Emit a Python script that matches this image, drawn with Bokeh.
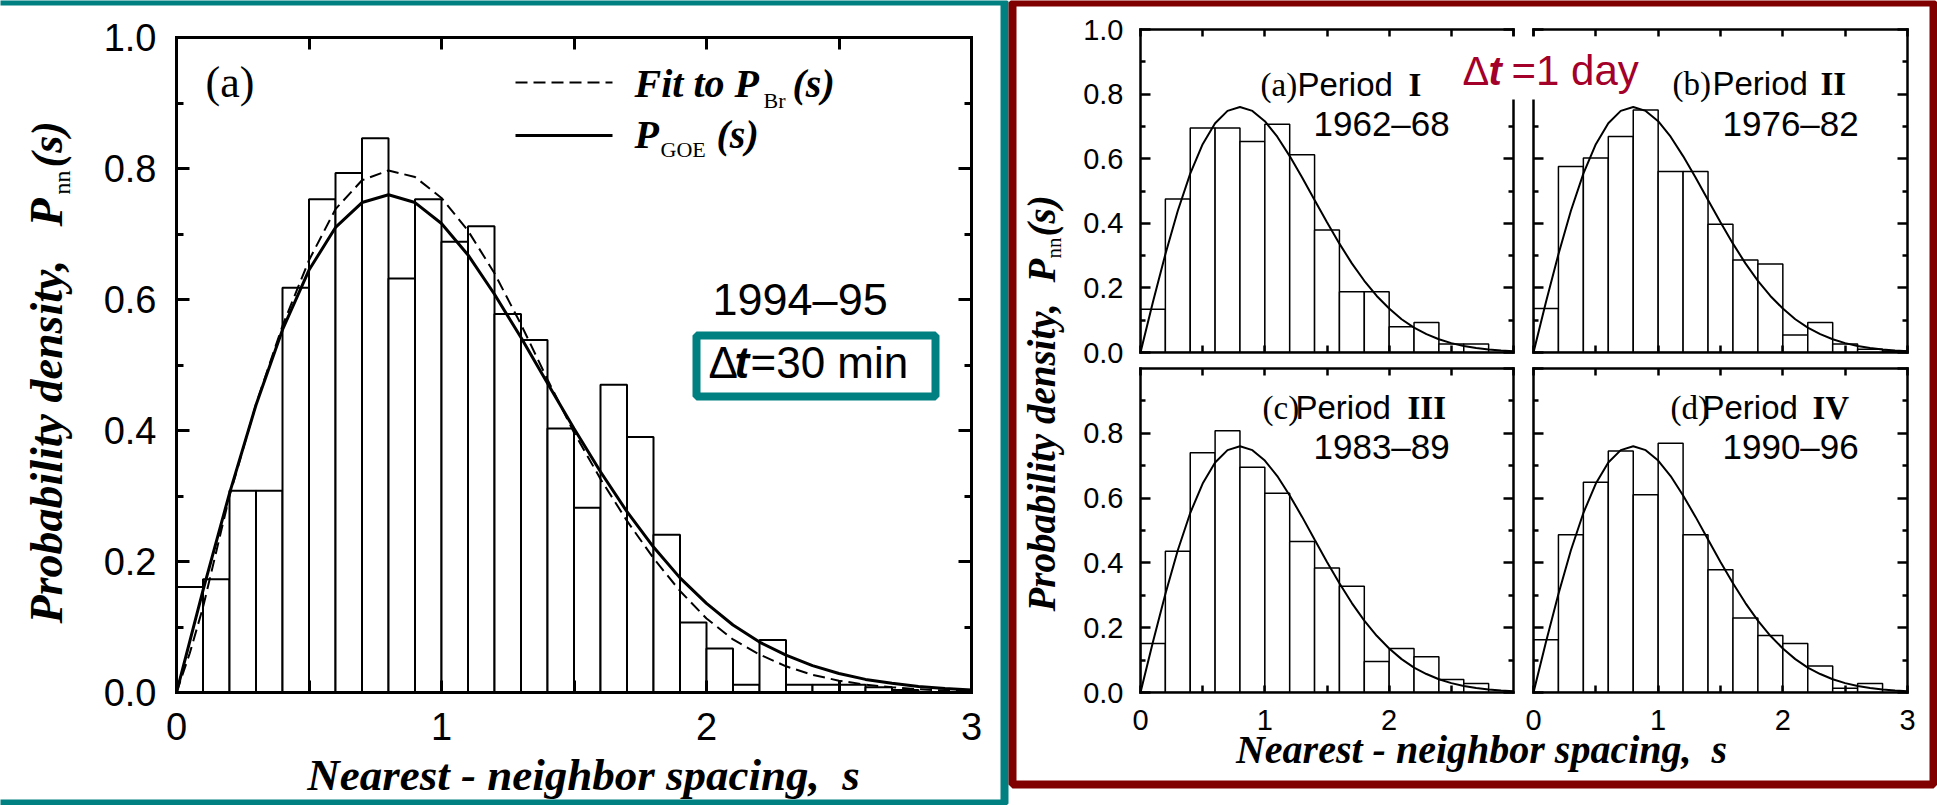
from bokeh.plotting import figure
from bokeh.models import Range1d, LinearAxis, FixedTicker, NumeralTickFormatter, Label
from bokeh.embed import file_html
from bokeh.resources import INLINE

# ---------------- data ----------------
s_curve = [0.0, 0.1, 0.2, 0.3, 0.4, 0.5, 0.6, 0.7, 0.8, 0.9, 1.0, 1.1, 1.2, 1.3, 1.4, 1.5,
           1.6, 1.7, 1.8, 1.9, 2.0, 2.1, 2.2, 2.3, 2.4, 2.5, 2.6, 2.7, 2.8, 2.9, 3.0]
p_goe = [0.0, 0.156, 0.304, 0.439, 0.554, 0.645, 0.710, 0.748, 0.760, 0.748, 0.716, 0.668,
         0.608, 0.542, 0.472, 0.403, 0.337, 0.276, 0.222, 0.175, 0.136, 0.103, 0.077, 0.057,
         0.041, 0.029, 0.020, 0.014, 0.009, 0.006, 0.004]

s_fit = [0.0, 0.05, 0.1, 0.15, 0.2, 0.3, 0.4, 0.5, 0.6, 0.7, 0.8, 0.9, 1.0, 1.1, 1.2, 1.3,
         1.4, 1.5, 1.6, 1.7, 1.8, 1.9, 2.0, 2.1, 2.2, 2.3, 2.4, 2.5, 2.6, 2.7, 2.8, 2.9, 3.0]
p_fit_br = [0.0, 0.06, 0.13, 0.215, 0.30, 0.44, 0.56, 0.66, 0.738, 0.782, 0.797, 0.787, 0.755,
            0.705, 0.640, 0.562, 0.478, 0.397, 0.326, 0.262, 0.205, 0.155, 0.113, 0.081, 0.058,
            0.040, 0.027, 0.018, 0.012, 0.008, 0.005, 0.003, 0.002]

edges_30min = [0.0, 0.1, 0.2, 0.3, 0.4, 0.5, 0.6, 0.7, 0.8, 0.9, 1.0, 1.1, 1.2, 1.3, 1.4, 1.5,
               1.6, 1.7, 1.8, 1.9, 2.0, 2.1, 2.2, 2.3, 2.4, 2.5, 2.6, 2.7, 2.8, 2.9, 3.0]
hist_1994_95 = [0.161, 0.173, 0.308, 0.308, 0.618, 0.753, 0.793, 0.846, 0.632, 0.753, 0.688,
                0.712, 0.578, 0.538, 0.403, 0.282, 0.470, 0.390, 0.241, 0.107, 0.067, 0.012,
                0.080, 0.012, 0.012, 0.012, 0.008, 0.004, 0.0, 0.0]

edges_1day = [0.0, 0.2, 0.4, 0.6, 0.8, 1.0, 1.2, 1.4, 1.6, 1.8, 2.0, 2.2, 2.4, 2.6, 2.8, 3.0]
hist_period_I = [0.134, 0.475, 0.695, 0.695, 0.653, 0.707, 0.612, 0.379, 0.188, 0.188, 0.080,
                 0.093, 0.026, 0.026, 0.0]
hist_period_II = [0.136, 0.576, 0.602, 0.669, 0.751, 0.560, 0.560, 0.397, 0.286, 0.274, 0.054,
                  0.093, 0.026, 0.010, 0.005]
hist_period_III = [0.151, 0.436, 0.740, 0.808, 0.695, 0.615, 0.466, 0.384, 0.328, 0.096, 0.136,
                   0.110, 0.040, 0.028, 0.0]
hist_period_IV = [0.163, 0.487, 0.649, 0.745, 0.610, 0.769, 0.487, 0.379, 0.230, 0.176, 0.151,
                  0.082, 0.013, 0.028, 0.0]

y_ticks_full = [0.0, 0.2, 0.4, 0.6, 0.8, 1.0]
y_ticks_cut = [0.0, 0.2, 0.4, 0.6, 0.8]
y_minor = [0.1, 0.3, 0.5, 0.7, 0.9]
x_ticks_full = [0, 1, 2, 3]
x_ticks_cut = [0, 1, 2]
x_minor = [0.5, 1.5, 2.5]

# ---------------- styles ----------------
SANS = "Liberation Sans"
SERIF = "Liberation Serif"
TEAL = "#008080"
DARKRED = "#800000"
DT_RED = "#A3002A"
NB = "\u00a0"
BASE_SHIFT = 0.39   # empirical offset of Bokeh's alphabetic anchor (fraction of font size)

# frames (left, top, right, bottom) in page pixels
F_LEFT = (176, 37, 971, 692)
F_TL = (1140, 29, 1513, 352)
F_TR = (1533, 29, 1907, 352)
F_BL = (1140, 368, 1513, 692)
F_BR = (1533, 368, 1907, 692)


def make_panel(frame, borders, yt, xt, show_y, show_x, fs, ymaj, ymin, xtick, lw, standoff):
    x0, y0, x1, y1 = frame
    bl, br, bt, bb = borders
    p = figure(x_range=Range1d(0, 3), y_range=Range1d(0, 1),
               frame_width=x1 - x0, frame_height=y1 - y0,
               min_border_left=bl, min_border_right=br, min_border_top=bt, min_border_bottom=bb,
               x_axis_type=None, y_axis_type=None, toolbar_location=None,
               output_backend="svg", border_fill_color=None, background_fill_color=None,
               outline_line_color=None,
               styles={"position": "absolute", "left": f"{x0 - bl}px", "top": f"{y0 - bt}px"})

    def axis(side, ticks, minor, show, fmt, major_in, minor_in):
        ax = LinearAxis(ticker=FixedTicker(ticks=ticks, minor_ticks=minor),
                        formatter=NumeralTickFormatter(format=fmt))
        ax.axis_line_width = lw
        ax.axis_line_cap = "square"
        ax.major_tick_line_width = lw
        ax.minor_tick_line_width = lw
        ax.major_tick_in = major_in
        ax.major_tick_out = 0
        ax.minor_tick_in = minor_in
        ax.minor_tick_out = 0
        if show:
            ax.major_label_text_font = SANS
            ax.major_label_text_font_size = f"{fs}px"
            ax.major_label_text_color = "black"
            ax.major_label_standoff = standoff
        else:
            ax.major_label_text_font_size = "0px"
            ax.major_label_text_alpha = 0
            ax.major_label_standoff = 0
        p.add_layout(ax, side)

    axis("left", yt, y_minor, show_y, "0.0", ymaj, ymin)
    axis("right", y_ticks_full, y_minor, False, "0.0", ymaj, ymin)
    axis("below", xt, x_minor, show_x, "0", xtick, xtick)
    axis("above", x_ticks_full, x_minor, False, "0", xtick, xtick)
    return p


# ---------------- left panel (30 min) ----------------
left = make_panel(F_LEFT, (176, 29, 37, 113), y_ticks_full, x_ticks_full, True, True,
                  38, 13, 7, 12, 3, 20)
left.quad(left=edges_30min[:-1], right=edges_30min[1:], bottom=0, top=hist_1994_95,
          fill_color="white", line_color="black", line_width=2)
left.line(s_fit, p_fit_br, line_color="black", line_width=2, line_dash="12 6")
left.line(s_curve, p_goe, line_color="black", line_width=3)

# ---------------- right panels (1 day) ----------------
panels = [
    (F_TL, (124, 10, 29, 16), y_ticks_full, x_ticks_full, True, False, hist_period_I),
    (F_TR, (10, 23, 29, 16), y_ticks_full, x_ticks_full, False, False, hist_period_II),
    (F_BL, (124, 10, 8, 90), y_ticks_cut, x_ticks_cut, True, True, hist_period_III),
    (F_BR, (10, 23, 8, 90), y_ticks_full, x_ticks_full, False, True, hist_period_IV),
]
right_figs = []
for frame, borders, yt, xt, sy, sx, hist in panels:
    p = make_panel(frame, borders, yt, xt, sy, sx, 29, 10, 5, 7, 2.5, 17)
    p.quad(left=edges_1day[:-1], right=edges_1day[1:], bottom=0, top=hist,
           fill_color="white", line_color="black", line_width=1.5)
    p.line(s_curve, p_goe, line_color="black", line_width=2)
    right_figs.append(p)

# ---------------- overlay: frames, legend and all texts (page pixels) ----------------
ov = figure(x_range=Range1d(0, 1937), y_range=Range1d(805, 0), frame_width=1937, frame_height=805,
            min_border=0, x_axis_type=None, y_axis_type=None, toolbar_location=None,
            output_backend="svg", border_fill_color=None, background_fill_color=None,
            outline_line_color=None,
            styles={"position": "absolute", "left": "0px", "top": "0px"})
ov.quad(left=[-10], right=[1004], top=[1], bottom=[803], fill_color=None,
        line_color=TEAL, line_width=8)
ov.quad(left=[1012], right=[1933], top=[2], bottom=[784], fill_color=None,
        line_color=DARKRED, line_width=8)
ov.quad(left=[1455], right=[1652], top=[36], bottom=[99], fill_color="white", line_color=None)
ov.quad(left=[696], right=[935], top=[335], bottom=[396], fill_color=None,
        line_color=TEAL, line_width=8)
ov.line([515, 612], [82, 82], line_color="black", line_width=2, line_dash="12 6")
ov.line([515, 612], [135, 135], line_color="black", line_width=3)

ROT = 1.5707963


def oput(px, py, text, font, size, style="normal", color="black", rotated=False, align="left"):
    if rotated:
        x, y, ang = px - BASE_SHIFT * size, py, ROT
    else:
        x, y, ang = px, py - BASE_SHIFT * size, 0.0
    ov.add_layout(Label(x=x, y=y, text=text, text_font=font, text_font_size=f"{size}px",
                        text_font_style=style, text_color=color, text_align=align,
                        text_baseline="alphabetic", angle=ang))


# left panel texts
oput(205, 99, "(a)", SERIF, 44)
oput(634, 99, "Fit to P", SERIF, 40, "bold italic")
oput(763, 109, "Br", SERIF, 22)
oput(792, 99, "(s)", SERIF, 40, "bold italic")
oput(634, 150, "P", SERIF, 40, "bold italic")
oput(660, 158, "GOE", SERIF, 22)
oput(716, 150, "(s)", SERIF, 40, "bold italic")
oput(712, 317, "1994\u201395", SANS, 45)
oput(708, 379, "\u0394", SANS, 44)
oput(734, 379, "t", SANS, 44, "bold italic")
oput(750, 379, "=30 min", SANS, 44)
oput(583, 792, f"Nearest - neighbor spacing,{NB}{NB}s", SERIF, 45, "bold italic", align="center")
oput(64, 623, "Probability density,", SERIF, 46, "bold italic", rotated=True)
oput(64, 226, "P", SERIF, 46, "bold italic", rotated=True)
oput(71, 194, "nn", SERIF, 24, rotated=True)
oput(64, 167, "(s)", SERIF, 44, "bold italic", rotated=True)

# right panel texts
for px, py, t, f, st, sz in [
        (1260, 97, "(a)", SERIF, "normal", 33), (1297, 97, "Period", SANS, "normal", 33),
        (1408, 97, "I", SERIF, "bold", 33), (1313, 137, "1962\u201368", SANS, "normal", 35),
        (1672, 96, "(b)", SERIF, "normal", 33), (1712, 96, "Period", SANS, "normal", 33),
        (1820, 96, "II", SERIF, "bold", 33), (1722, 137, "1976\u201382", SANS, "normal", 35),
        (1262, 420, "(c)", SERIF, "normal", 33), (1295, 420, "Period", SANS, "normal", 33),
        (1407, 420, "III", SERIF, "bold", 33), (1313, 460, "1983\u201389", SANS, "normal", 35),
        (1670, 420, "(d)", SERIF, "normal", 33), (1702, 420, "Period", SANS, "normal", 33),
        (1812, 420, "IV", SERIF, "bold", 33), (1722, 460, "1990\u201396", SANS, "normal", 35)]:
    oput(px, py, t, f, sz, st)

oput(1462, 86, "\u0394", SANS, 40, color=DT_RED)
oput(1488, 86, "t", SANS, 40, "bold italic", color=DT_RED)
oput(1511, 86, "=1 day", SANS, 42, color=DT_RED)
oput(1481, 765, f"Nearest - neighbor spacing,{NB}{NB}s", SERIF, 40, "bold italic", align="center")
oput(1056, 611, "Probability density,", SERIF, 39, "bold italic", rotated=True)
oput(1056, 282, "P", SERIF, 39, "bold italic", rotated=True)
oput(1062, 258, "nn", SERIF, 21, rotated=True)
oput(1056, 236, "(s)", SERIF, 39, "bold italic", rotated=True)

open("out.html", "w").write(file_html([left, *right_figs, ov], INLINE))
